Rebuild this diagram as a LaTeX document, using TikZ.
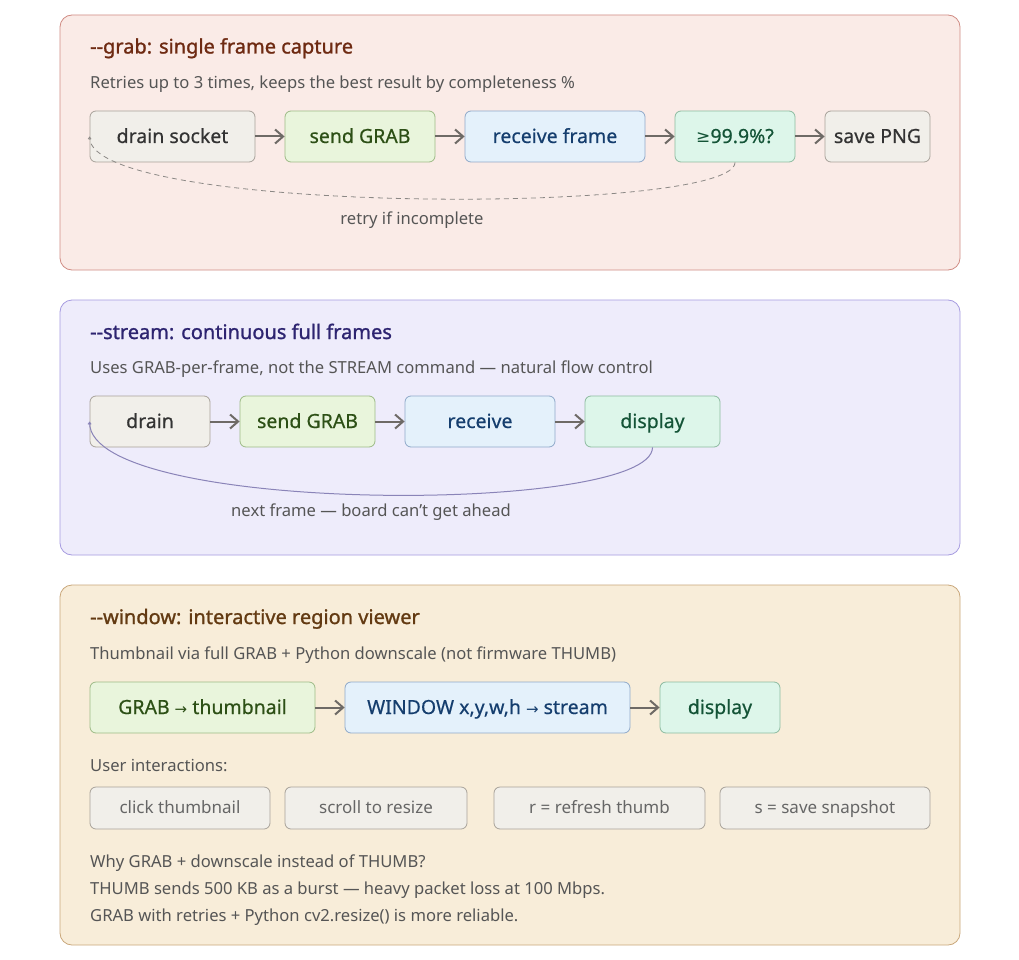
\documentclass[tikz,border=0pt]{standalone}
\usepackage{fontspec}
\setmainfont{Noto Sans}
\newfontfamily\symfont{DejaVu Sans}
\newfontfamily\heavyfont[FakeBold=0.5]{Noto Sans}
\newfontfamily\titlefont[FakeBold=1.2]{Noto Sans}
\usetikzlibrary{arrows.meta}
\definecolor{grabfill}{HTML}{FAEBE7}
\definecolor{grabline}{HTML}{D08C84}
\definecolor{grabtitle}{HTML}{6E2A12}
\definecolor{streamfill}{HTML}{EEECFB}
\definecolor{streamline}{HTML}{A69BE0}
\definecolor{streamtitle}{HTML}{2D2470}
\definecolor{winfill}{HTML}{F8EDD9}
\definecolor{winline}{HTML}{C9A77A}
\definecolor{wintitle}{HTML}{633A12}
\definecolor{notegray}{HTML}{555555}
\definecolor{arrowgray}{HTML}{6E6A66}
\definecolor{loopviolet}{HTML}{8A84B8}
\tikzset{
  box/.style={draw, rounded corners=6pt, minimum height=51pt, inner sep=0pt, line width=0.8pt,
    text height=16pt, text depth=3pt, font=\heavyfont\fontsize{19.5}{23}\selectfont},
  graybox/.style={box, fill={rgb,255:red,241;green,239;blue,234}, draw={rgb,255:red,168;green,162;blue,154}, text={rgb,255:red,51;green,51;blue,51}},
  greenbox/.style={box, fill={rgb,255:red,233;green,245;blue,220}, draw={rgb,255:red,157;green,187;blue,134}, text={rgb,255:red,45;green,80;blue,22}},
  bluebox/.style={box, fill={rgb,255:red,228;green,241;blue,251}, draw={rgb,255:red,143;green,169;blue,201}, text={rgb,255:red,21;green,62;blue,110}},
  mintbox/.style={box, fill={rgb,255:red,221;green,246;blue,234}, draw={rgb,255:red,141;green,187;blue,160}, text={rgb,255:red,20;green,84;blue,55}},
  keybox/.style={graybox, minimum height=42pt, text height=13pt, text depth=3pt,
    text={rgb,255:red,102;green,102;blue,102}, font=\fontsize{17}{20}\selectfont},
  flow/.style={draw=arrowgray, line width=2pt, -{Straight Barb[length=8pt,width=14pt]}},
  note/.style={anchor=base west, inner sep=0pt, text=notegray, font=\fontsize{16.6}{20}\selectfont},
  heading/.style={anchor=base west, inner sep=0pt, font=\titlefont\fontsize{20}{24}\selectfont},
}
\newcommand{\drawpanel}[4]{
    \draw[draw=#3, fill=#4, rounded corners=12pt, line width=0.8pt] (60,#1) rectangle (960,#2);
}

\begin{document}
\begin{tikzpicture}[x=1pt,y=-1pt]
    \useasboundingbox[fill=white] (0,0) rectangle (1019,960);

    % --grab
    \drawpanel{15}{270}{grabline}{grabfill}
    \node[heading, text=grabtitle] (grabhead) at (90,53.5) {-{}-grab: single frame capture};
    \node[note] (grabnote) at (90,89) {Retries up to 3 times, keeps the best result by completeness \%};
    \node[graybox, minimum width=165pt] (drainsock) at (172.5,136.5) {drain socket};
    \node[greenbox, minimum width=150pt] (sendgrab) at (360,136.5) {send GRAB};
    \node[bluebox, minimum width=180pt] (recvframe) at (555,136.5) {receive frame};
    \node[mintbox, minimum width=120pt] (check) at (735,136.5) {{\symfont\fontsize{17}{20}\selectfont ≥}99.9\%?};
    \node[graybox, minimum width=105pt] (savepng) at (877.5,136.5) {save PNG};
    \draw[flow] (drainsock) -- (sendgrab);
    \draw[flow] (sendgrab) -- (recvframe);
    \draw[flow] (recvframe) -- (check);
    \draw[flow] (check) -- (savepng);
    \draw[draw=arrowgray!80, line width=0.8pt, dash pattern=on 5pt off 4pt, -{Straight Barb[length=2pt,width=3pt]}]
        (check.south) .. controls (735,215) and (90,215) .. (drainsock.west);
    \node[note, anchor=base] (retry) at (412,224) {retry if incomplete};

    % --stream
    \drawpanel{300}{555}{streamline}{streamfill}
    \node[heading, text=streamtitle] (streamhead) at (90,339) {-{}-stream: continuous full frames};
    \node[note] (streamnote) at (90,373) {Uses GRAB-per-frame, not the STREAM command — natural flow control};
    \node[graybox, minimum width=120pt] (drain) at (150,421.5) {drain};
    \node[greenbox, minimum width=135pt] (send) at (307.5,421.5) {send GRAB};
    \node[bluebox, minimum width=150pt] (recv) at (480,421.5) {receive};
    \node[mintbox, minimum width=135pt] (show) at (652.5,421.5) {display};
    \draw[flow] (drain) -- (send);
    \draw[flow] (send) -- (recv);
    \draw[flow] (recv) -- (show);
    \draw[draw=loopviolet, line width=1pt, -{Straight Barb[length=2pt,width=3pt]}]
        (show.south) .. controls (652,515) and (90,515) .. (drain.west);
    \node[note, anchor=base] (nextframe) at (371,516) {next frame — board can't get ahead};

    % --window
    \drawpanel{585}{945}{winline}{winfill}
    \node[heading, text=wintitle] (winhead) at (90,624) {-{}-window: interactive region viewer};
    \node[note] (winnote) at (90,659) {Thumbnail via full GRAB + Python downscale (not firmware THUMB)};
    \node[greenbox, minimum width=225pt] (thumb) at (202.5,707.5) {GRAB {\symfont\fontsize{15}{18}\selectfont →} thumbnail};
    \node[bluebox, minimum width=285pt] (window) at (487.5,707.5) {WINDOW x,y,w,h {\symfont\fontsize{15}{18}\selectfont →} stream};
    \node[mintbox, minimum width=120pt] (windisp) at (720,707.5) {display};
    \draw[flow] (thumb) -- (window);
    \draw[flow] (window) -- (windisp);
    \node[note] (userhead) at (90,771) {User interactions:};
    \node[keybox, minimum width=180pt] (click) at (180,808) {click thumbnail};
    \node[keybox, minimum width=182pt] (scroll) at (376,808) {scroll to resize};
    \node[keybox, minimum width=211pt] (refresh) at (599.5,808) {r = refresh thumb};
    \node[keybox, minimum width=210pt] (snap) at (825,808) {s = save snapshot};
    \node[note] (why) at (90,867) {Why GRAB + downscale instead of THUMB?};
    \node[note] (burst) at (90,894) {THUMB sends 500 KB as a burst — heavy packet loss at 100 Mbps.};
    \node[note] (reliable) at (90,921) {GRAB with retries + Python cv2.resize() is more reliable.};
\end{tikzpicture}
\end{document}
